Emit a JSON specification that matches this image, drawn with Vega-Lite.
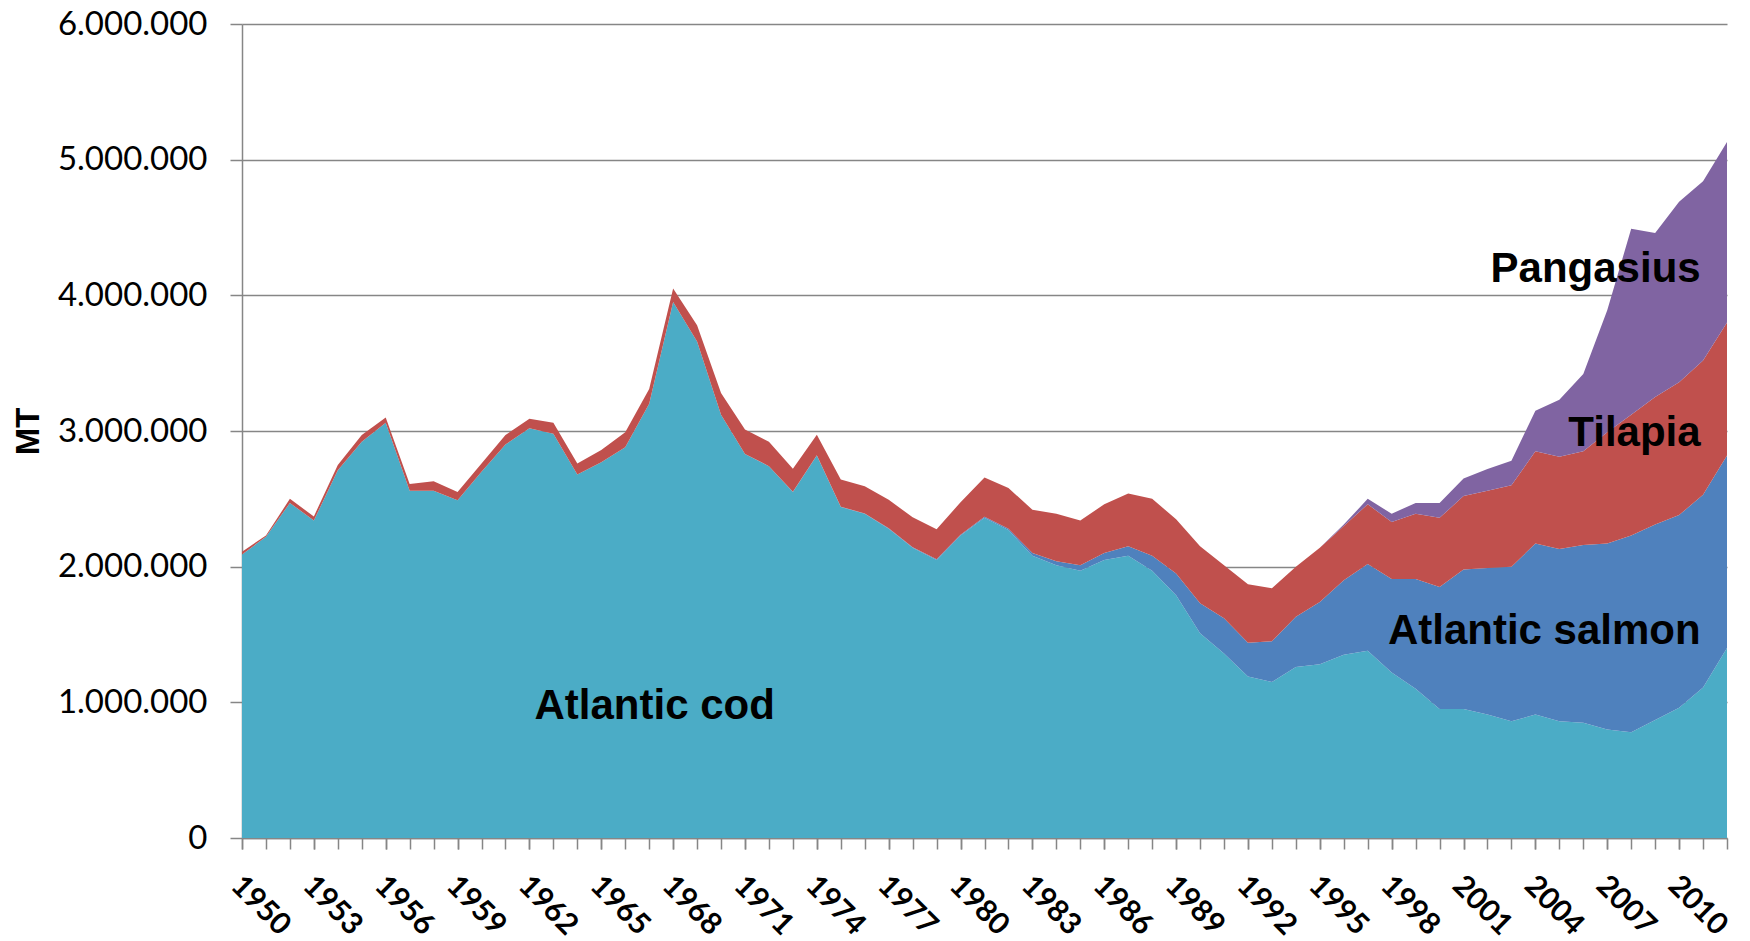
{
  "$schema": "https://vega.github.io/schema/vega-lite/v6.json",
  "width": 1485,
  "height": 814,
  "autosize": {"type": "none"},
  "padding": {"left": 242, "top": 24, "right": 23, "bottom": 103},
  "background": "white",
  "config": {
    "locale": {"number": {"decimal": ",", "thousands": ".", "grouping": [3], "currency": ["", " €"]}},
    "view": {"stroke": null},
    "axis": {"domainColor": "#868686", "domainWidth": 1.5, "tickColor": "#868686", "tickWidth": 1.5, "labelColor": "#000000", "titleColor": "#000000"}
  },
  "resolve": {"scale": {"x": "shared", "y": "shared"}, "axis": {"x": "independent"}},
  "layer": [
    {
      "data": {"values": [
        {"year": 1950, "Atlantic cod": 2090000, "Atlantic salmon": 0, "Tilapia": 20000, "Pangasius": 0},
        {"year": 1951, "Atlantic cod": 2220000, "Atlantic salmon": 0, "Tilapia": 10000, "Pangasius": 0},
        {"year": 1952, "Atlantic cod": 2470000, "Atlantic salmon": 0, "Tilapia": 30000, "Pangasius": 0},
        {"year": 1953, "Atlantic cod": 2340000, "Atlantic salmon": 0, "Tilapia": 30000, "Pangasius": 0},
        {"year": 1954, "Atlantic cod": 2710000, "Atlantic salmon": 0, "Tilapia": 40000, "Pangasius": 0},
        {"year": 1955, "Atlantic cod": 2920000, "Atlantic salmon": 0, "Tilapia": 50000, "Pangasius": 0},
        {"year": 1956, "Atlantic cod": 3060000, "Atlantic salmon": 0, "Tilapia": 40000, "Pangasius": 0},
        {"year": 1957, "Atlantic cod": 2560000, "Atlantic salmon": 0, "Tilapia": 50000, "Pangasius": 0},
        {"year": 1958, "Atlantic cod": 2560000, "Atlantic salmon": 0, "Tilapia": 70000, "Pangasius": 0},
        {"year": 1959, "Atlantic cod": 2490000, "Atlantic salmon": 0, "Tilapia": 60000, "Pangasius": 0},
        {"year": 1960, "Atlantic cod": 2700000, "Atlantic salmon": 0, "Tilapia": 60000, "Pangasius": 0},
        {"year": 1961, "Atlantic cod": 2900000, "Atlantic salmon": 0, "Tilapia": 70000, "Pangasius": 0},
        {"year": 1962, "Atlantic cod": 3020000, "Atlantic salmon": 0, "Tilapia": 70000, "Pangasius": 0},
        {"year": 1963, "Atlantic cod": 2980000, "Atlantic salmon": 0, "Tilapia": 80000, "Pangasius": 0},
        {"year": 1964, "Atlantic cod": 2680000, "Atlantic salmon": 0, "Tilapia": 80000, "Pangasius": 0},
        {"year": 1965, "Atlantic cod": 2770000, "Atlantic salmon": 0, "Tilapia": 90000, "Pangasius": 0},
        {"year": 1966, "Atlantic cod": 2880000, "Atlantic salmon": 0, "Tilapia": 110000, "Pangasius": 0},
        {"year": 1967, "Atlantic cod": 3200000, "Atlantic salmon": 0, "Tilapia": 110000, "Pangasius": 0},
        {"year": 1968, "Atlantic cod": 3950000, "Atlantic salmon": 0, "Tilapia": 100000, "Pangasius": 0},
        {"year": 1969, "Atlantic cod": 3660000, "Atlantic salmon": 0, "Tilapia": 120000, "Pangasius": 0},
        {"year": 1970, "Atlantic cod": 3120000, "Atlantic salmon": 0, "Tilapia": 160000, "Pangasius": 0},
        {"year": 1971, "Atlantic cod": 2830000, "Atlantic salmon": 1000, "Tilapia": 180000, "Pangasius": 0},
        {"year": 1972, "Atlantic cod": 2740000, "Atlantic salmon": 1000, "Tilapia": 180000, "Pangasius": 0},
        {"year": 1973, "Atlantic cod": 2550000, "Atlantic salmon": 2000, "Tilapia": 170000, "Pangasius": 0},
        {"year": 1974, "Atlantic cod": 2820000, "Atlantic salmon": 2000, "Tilapia": 150000, "Pangasius": 0},
        {"year": 1975, "Atlantic cod": 2440000, "Atlantic salmon": 2000, "Tilapia": 200000, "Pangasius": 0},
        {"year": 1976, "Atlantic cod": 2390000, "Atlantic salmon": 2000, "Tilapia": 200000, "Pangasius": 0},
        {"year": 1977, "Atlantic cod": 2280000, "Atlantic salmon": 3000, "Tilapia": 210000, "Pangasius": 0},
        {"year": 1978, "Atlantic cod": 2140000, "Atlantic salmon": 4000, "Tilapia": 220000, "Pangasius": 0},
        {"year": 1979, "Atlantic cod": 2050000, "Atlantic salmon": 5000, "Tilapia": 220000, "Pangasius": 0},
        {"year": 1980, "Atlantic cod": 2230000, "Atlantic salmon": 5000, "Tilapia": 240000, "Pangasius": 0},
        {"year": 1981, "Atlantic cod": 2360000, "Atlantic salmon": 8000, "Tilapia": 290000, "Pangasius": 0},
        {"year": 1982, "Atlantic cod": 2270000, "Atlantic salmon": 10000, "Tilapia": 300000, "Pangasius": 0},
        {"year": 1983, "Atlantic cod": 2080000, "Atlantic salmon": 20000, "Tilapia": 320000, "Pangasius": 0},
        {"year": 1984, "Atlantic cod": 2010000, "Atlantic salmon": 30000, "Tilapia": 350000, "Pangasius": 0},
        {"year": 1985, "Atlantic cod": 1970000, "Atlantic salmon": 40000, "Tilapia": 330000, "Pangasius": 0},
        {"year": 1986, "Atlantic cod": 2050000, "Atlantic salmon": 50000, "Tilapia": 360000, "Pangasius": 0},
        {"year": 1987, "Atlantic cod": 2080000, "Atlantic salmon": 70000, "Tilapia": 390000, "Pangasius": 0},
        {"year": 1988, "Atlantic cod": 1970000, "Atlantic salmon": 110000, "Tilapia": 420000, "Pangasius": 0},
        {"year": 1989, "Atlantic cod": 1790000, "Atlantic salmon": 160000, "Tilapia": 400000, "Pangasius": 0},
        {"year": 1990, "Atlantic cod": 1510000, "Atlantic salmon": 220000, "Tilapia": 420000, "Pangasius": 0},
        {"year": 1991, "Atlantic cod": 1360000, "Atlantic salmon": 260000, "Tilapia": 390000, "Pangasius": 0},
        {"year": 1992, "Atlantic cod": 1190000, "Atlantic salmon": 250000, "Tilapia": 430000, "Pangasius": 0},
        {"year": 1993, "Atlantic cod": 1150000, "Atlantic salmon": 300000, "Tilapia": 390000, "Pangasius": 0},
        {"year": 1994, "Atlantic cod": 1260000, "Atlantic salmon": 370000, "Tilapia": 370000, "Pangasius": 0},
        {"year": 1995, "Atlantic cod": 1280000, "Atlantic salmon": 460000, "Tilapia": 400000, "Pangasius": 0},
        {"year": 1996, "Atlantic cod": 1350000, "Atlantic salmon": 550000, "Tilapia": 400000, "Pangasius": 10000},
        {"year": 1997, "Atlantic cod": 1380000, "Atlantic salmon": 640000, "Tilapia": 440000, "Pangasius": 40000},
        {"year": 1998, "Atlantic cod": 1220000, "Atlantic salmon": 690000, "Tilapia": 420000, "Pangasius": 60000},
        {"year": 1999, "Atlantic cod": 1100000, "Atlantic salmon": 810000, "Tilapia": 480000, "Pangasius": 80000},
        {"year": 2000, "Atlantic cod": 950000, "Atlantic salmon": 900000, "Tilapia": 510000, "Pangasius": 110000},
        {"year": 2001, "Atlantic cod": 950000, "Atlantic salmon": 1030000, "Tilapia": 540000, "Pangasius": 130000},
        {"year": 2002, "Atlantic cod": 910000, "Atlantic salmon": 1080000, "Tilapia": 570000, "Pangasius": 160000},
        {"year": 2003, "Atlantic cod": 860000, "Atlantic salmon": 1140000, "Tilapia": 600000, "Pangasius": 180000},
        {"year": 2004, "Atlantic cod": 910000, "Atlantic salmon": 1260000, "Tilapia": 680000, "Pangasius": 300000},
        {"year": 2005, "Atlantic cod": 860000, "Atlantic salmon": 1270000, "Tilapia": 680000, "Pangasius": 420000},
        {"year": 2006, "Atlantic cod": 850000, "Atlantic salmon": 1310000, "Tilapia": 690000, "Pangasius": 570000},
        {"year": 2007, "Atlantic cod": 800000, "Atlantic salmon": 1370000, "Tilapia": 820000, "Pangasius": 900000},
        {"year": 2008, "Atlantic cod": 780000, "Atlantic salmon": 1450000, "Tilapia": 890000, "Pangasius": 1370000},
        {"year": 2009, "Atlantic cod": 870000, "Atlantic salmon": 1440000, "Tilapia": 940000, "Pangasius": 1210000},
        {"year": 2010, "Atlantic cod": 960000, "Atlantic salmon": 1420000, "Tilapia": 980000, "Pangasius": 1330000},
        {"year": 2011, "Atlantic cod": 1110000, "Atlantic salmon": 1420000, "Tilapia": 990000, "Pangasius": 1320000},
        {"year": 2012, "Atlantic cod": 1400000, "Atlantic salmon": 1420000, "Tilapia": 980000, "Pangasius": 1330000}
      ]},
      "transform": [
        {"fold": ["Atlantic cod", "Atlantic salmon", "Tilapia", "Pangasius"], "as": ["species", "mt"]},
        {"calculate": "indexof(['Atlantic cod', 'Atlantic salmon', 'Tilapia', 'Pangasius'], datum.species)", "as": "stackRank"}
      ],
      "mark": {"type": "area", "interpolate": "linear"},
      "encoding": {
        "x": {
          "field": "year", "type": "quantitative",
          "scale": {"domain": [1950, 2012], "nice": false, "zero": false},
          "axis": {
            "orient": "bottom",
            "title": null, "grid": false, "format": "d",
            "values": [1950,1953,1956,1959,1962,1965,1968,1971,1974,1977,1980,1983,1986,1989,1992,1995,1998,2001,2004,2007,2010],
            "tickSize": 11,
            "labelAngle": 45, "labelAlign": "left", "labelBaseline": "top",
            "labelPadding": 21, "labelOffset": 4,
            "labelFont": "Lato", "labelFontSize": 30, "labelFontWeight": "bold",
            "labelOverlap": false, "labelFlush": false
          }
        },
        "y": {
          "field": "mt", "type": "quantitative", "stack": "zero",
          "scale": {"domain": [0, 6000000], "nice": false},
          "axis": {
            "title": "MT", "format": ",d",
            "values": [0, 1000000, 2000000, 3000000, 4000000, 5000000, 6000000],
            "grid": true, "gridColor": "#868686", "gridWidth": 1.5,
            "tickSize": 12, "labelPadding": 23,
            "labelFont": "Lato", "labelFontSize": 33,
            "titleFont": "Liberation Sans", "titleFontSize": 33, "titleFontWeight": "bold",
            "titleAngle": -90, "titleX": -214, "titleY": 407, "titleAlign": "center", "titleBaseline": "middle"
          }
        },
        "color": {
          "field": "species", "type": "nominal",
          "scale": {"domain": ["Atlantic cod", "Atlantic salmon", "Tilapia", "Pangasius"], "range": ["#4BACC6", "#4F81BD", "#C0504D", "#8064A2"]},
          "legend": null
        },
        "order": {"field": "stackRank", "type": "quantitative", "sort": "ascending"}
      }
    },
    {
      "data": {"values": [{"label": "Atlantic cod", "year": 1967.23, "mt": 875000}]},
      "mark": {"type": "text", "align": "center", "baseline": "alphabetic", "font": "Liberation Sans", "fontSize": 42, "fontWeight": "bold", "color": "#000000"},
      "encoding": {
        "x": {
          "field": "year", "type": "quantitative",
          "axis": {
            "orient": "bottom",
            "title": null, "grid": false, "labels": false, "domain": false,
            "values": [1950,1951,1952,1953,1954,1955,1956,1957,1958,1959,1960,1961,1962,1963,1964,1965,1966,1967,1968,1969,1970,1971,1972,1973,1974,1975,1976,1977,1978,1979,1980,1981,1982,1983,1984,1985,1986,1987,1988,1989,1990,1991,1992,1993,1994,1995,1996,1997,1998,1999,2000,2001,2002,2003,2004,2005,2006,2007,2008,2009,2010,2011,2012],
            "tickSize": 11
          }
        },
        "y": {"field": "mt", "type": "quantitative"},
        "text": {"field": "label"}
      }
    },
    {
      "data": {"values": [
        {"label": "Pangasius", "year": 2010.9, "mt": 4100000},
        {"label": "Tilapia", "year": 2010.9, "mt": 2890000},
        {"label": "Atlantic salmon", "year": 2010.9, "mt": 1433000}
      ]},
      "mark": {"type": "text", "align": "right", "baseline": "alphabetic", "font": "Liberation Sans", "fontSize": 42, "fontWeight": "bold", "color": "#000000"},
      "encoding": {
        "x": {"field": "year", "type": "quantitative", "axis": null},
        "y": {"field": "mt", "type": "quantitative"},
        "text": {"field": "label"}
      }
    }
  ]
}
